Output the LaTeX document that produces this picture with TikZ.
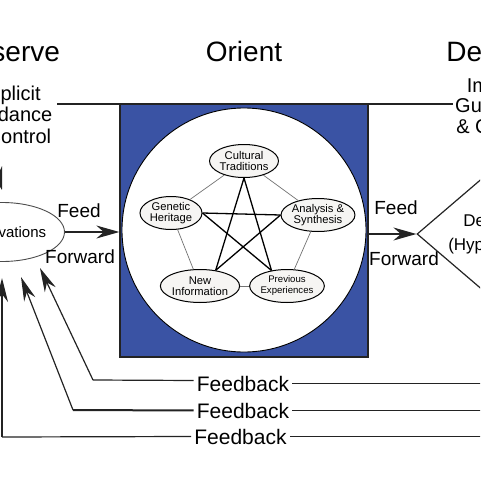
\documentclass[tikz,border=0pt]{standalone}
\usepackage{fontspec}
\setmainfont{Liberation Sans}
\usetikzlibrary{arrows.meta,shapes.geometric}
\definecolor{oblue}{RGB}{58,83,164}
\definecolor{ellfill}{RGB}{246,245,243}
\definecolor{ln}{RGB}{35,35,35}
\begin{document}
\begin{tikzpicture}[x=1pt,y=-1pt,
  titletext/.style={anchor=base,inner sep=0,font=\fontsize{28}{30}\selectfont},
  lbl/.style={anchor=base,inner sep=0,font=\fontsize{20}{21.5}\selectfont},
  pent/.style={ellipse,draw=black,line width=1,fill=ellfill,minimum width=62,minimum height=33,inner sep=0,align=center,font=\fontsize{11.2}{11.5}\selectfont},
  thinedge/.style={draw=black!55,line width=0.7},
  staredge/.style={draw=black,line width=1.3},
  ffarrow/.style={draw=ln,line width=1.2,-{Stealth[length=23pt,width=13pt]}},
  fbarrow/.style={draw=ln,line width=1.2,-{Stealth[length=24pt,width=12pt]}},
  fbline/.style={draw=ln,line width=1.2},
  fl/.style={anchor=base,inner sep=0,font=\fontsize{19}{21}\selectfont},
  fbtext/.style={anchor=base,inner xsep=3,inner ysep=0,font=\fontsize{21}{23}\selectfont}
]
\useasboundingbox (0,0) rectangle (480,485);
\clip (0,0) rectangle (480,485);

% titles
\node[titletext] (tObs) at (7,61) {Observe};
\node[titletext] (tOri) at (244,61) {Orient};
\node[titletext] (tDec) at (490,61) {Decide};

% implicit guidance labels
\node[lbl] (igcL) at (9.5,100) {\begin{tabular}[t]{@{}c@{}}Implicit\\Guidance\\\& Control\end{tabular}};
\node[lbl,font=\fontsize{20}{20.5}\selectfont] (igcR) at (498,92) {\begin{tabular}[t]{@{}c@{}}Implicit\\Guidance\\\& Control\end{tabular}};

% orient box
\node[draw=ln,line width=1.3,fill=oblue,minimum width=248,minimum height=253,inner sep=0] (orient) at (244,230.5) {};
\node[circle,draw=black,line width=0.9,fill=white,minimum size=244,inner sep=0] (circ) at (244,230) {};

% top line
\coordinate (topL) at (57,104);
\coordinate (topR) at (453,104);
\draw[ln,line width=1.5] (topL) -- (topR);

% pentagon nodes
\node[pent] (cult) at (244,161) {Cultural\\Traditions};
\node[pent] (gen) at (171,213) {Genetic\\Heritage};
\node[pent] (ana) at (318,215) {Analysis \&\\Synthesis};
\node[pent] (new) at (200,286) {New\\Information};
\node[pent,font=\fontsize{9.6}{11}\selectfont] (prev) at (287,286) {Previous\\Experiences};

% pentagon sides
\draw[thinedge] (cult) -- (gen);
\draw[thinedge] (cult) -- (ana);
\draw[thinedge] (gen) -- (new);
\draw[thinedge] (ana) -- (prev);
\draw[thinedge] (new) -- (prev);
% star
\draw[staredge] (cult.south) -- (new.45);
\draw[staredge] (cult.south) -- (prev.135);
\draw[staredge] (gen.east) -- (ana.west);
\draw[staredge] (gen.east) -- (prev.135);
\draw[staredge] (ana.west) -- (new.45);

% observations
\node[ellipse,draw=black!70,line width=0.9,fill=white,minimum width=102,minimum height=59,inner sep=0,font=\fontsize{15}{17}\selectfont] (obs) at (2,232) {Observations};

% decision
\node[diamond,draw=ln,line width=1.2,minimum width=158,minimum height=124,inner sep=0,align=center,font=\fontsize{17}{24}\selectfont] (dec) at (496,234) {Decision\\(Hypothesis)};

% feed forward
\draw[ffarrow] (obs.east) -- (obs.east -| orient.west);
\draw[ffarrow] (orient.east |- dec.west) -- (dec.west);
\node[fl] (feedL) at (79,217) {Feed};
\node[fl] (fwdL) at (80,263) {Forward};
\node[fl] (feedR) at (396,214) {Feed};
\node[fl] (fwdR) at (404,265) {Forward};

% implicit guidance arrow into observations (mostly outside)
\coordinate (igA) at (-12,140);
\coordinate (igB) at (2,190);
\draw[ffarrow] (igA) -- (igB);

% feedback
\node[fbtext] (fb1) at (243,391) {Feedback};
\node[fbtext] (fb2) at (243,418) {Feedback};
\node[fbtext] (fb3) at (240.5,444) {Feedback};
\coordinate (rEdge) at (490,0);
\coordinate (b1) at (93,380);
\coordinate (t1) at (40,268);
\coordinate (b2) at (73,410);
\coordinate (t2) at (21,277);
\coordinate (b3) at (2,437);
\coordinate (t3) at (2,278);
\draw[fbline] ([yshift=3pt]fb1.west) -- (b1);
\draw[fbarrow] (b1) -- (t1);
\draw[fbline,line width=2] (fb2.west) -- (b2);
\draw[fbarrow] (b2) -- (t2);
\draw[fbline] (fb3.west) -- (b3);
\draw[fbarrow] (b3) -- (t3);
\draw[fbline] (fb1.east) -- (fb1.east -| rEdge);
\draw[fbline] (fb2.east) -- (fb2.east -| rEdge);
\draw[fbline] (fb3.east) -- (fb3.east -| rEdge);
\end{tikzpicture}
\end{document}
